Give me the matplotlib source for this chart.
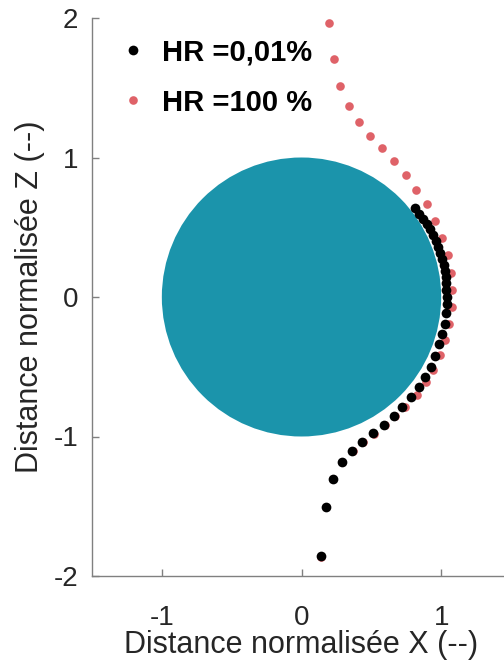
import matplotlib
matplotlib.use("Agg")
from matplotlib import pyplot as plt
from matplotlib.patches import Circle

plt.rcParams['font.family'] = ['Liberation Sans', 'DejaVu Sans']
plt.rcParams['axes.unicode_minus'] = False

# HR = 0,01 % trajectory
x_dry = [0.812, 0.842, 0.871, 0.898, 0.921, 0.941, 0.962, 0.979, 0.995, 1.007,
         1.019, 1.026, 1.034, 1.036, 1.038, 1.041, 1.041, 1.036, 1.024, 1.009,
         0.988, 0.959, 0.926, 0.885, 0.838, 0.783, 0.723, 0.661, 0.590, 0.511,
         0.435, 0.361, 0.289, 0.225, 0.175, 0.139]
z_dry = [0.635, 0.595, 0.557, 0.521, 0.485, 0.444, 0.404, 0.361, 0.318, 0.275,
         0.232, 0.188, 0.141, 0.098, 0.050, 0.002, -0.047, -0.112, -0.193, -0.265,
         -0.339, -0.420, -0.499, -0.575, -0.647, -0.716, -0.786, -0.852, -0.919, -0.976,
         -1.039, -1.103, -1.182, -1.302, -1.506, -1.860]

# HR = 100 % trajectory
x_wet = [0.196, 0.232, 0.279, 0.341, 0.411, 0.490, 0.578, 0.664, 0.747, 0.823,
         0.898, 0.957, 1.007, 1.048, 1.069, 1.077, 1.074, 1.055, 1.024, 0.991,
         0.945, 0.890, 0.826, 0.742, 0.668, 0.596, 0.517, 0.440, 0.366, 0.293,
         0.229, 0.178, 0.141]
z_wet = [1.963, 1.703, 1.515, 1.366, 1.254, 1.156, 1.068, 0.974, 0.876, 0.766,
         0.664, 0.544, 0.423, 0.299, 0.174, 0.050, -0.069, -0.193, -0.310, -0.415,
         -0.523, -0.607, -0.702, -0.790, -0.855, -0.921, -0.979, -1.042, -1.106, -1.185,
         -1.305, -1.508, -1.862]

labels = ['HR =0,01%', 'HR =100 %']

fig = plt.figure(figsize=(5.04, 6.70), dpi=100)
ax = fig.add_axes([92 / 504, 94 / 670, 419 / 504, 558 / 670])

ax.add_patch(Circle((0, 0), 1.0, facecolor='#1B94AB', edgecolor='none', zorder=1))

ax.plot(x_wet, z_wet, 'o', color='#DF6268', markersize=6.2, markeredgewidth=0,
        label=labels[1], zorder=2)
ax.plot(x_dry, z_dry, 'o', color='black', markersize=7, markeredgewidth=0,
        label=labels[0], zorder=3)

ax.set_xlim(-1.5, 1.5)
ax.set_ylim(-2, 2)
ax.set_xticks([-1, 0, 1])
ax.set_yticks([-2, -1, 0, 1, 2])

for s in ['top', 'right']:
    ax.spines[s].set_visible(False)
for s in ['left', 'bottom']:
    ax.spines[s].set_color('#808080')
    ax.spines[s].set_linewidth(1.0)

ax.tick_params(direction='in', length=5, width=1, color='#808080',
               labelsize=20, labelcolor='#262626')
ax.tick_params(axis='x', pad=21)
ax.tick_params(axis='y', pad=10)
ax.set_xlabel('Distance normalisée X (--)', fontsize=22, color='#262626', labelpad=-1)
ax.set_ylabel('Distance normalisée Z (--)', fontsize=22, color='#262626', labelpad=6)

handles, labs = ax.get_legend_handles_labels()
leg = ax.legend(handles[::-1], labs[::-1], loc='upper left', bbox_to_anchor=(0.0, 1.01),
                frameon=False, prop={'weight': 'bold', 'size': 21},
                handletextpad=0.5, handlelength=1.0, labelspacing=0.75, markerscale=1.0)

fig.savefig('out.png', dpi=100)
